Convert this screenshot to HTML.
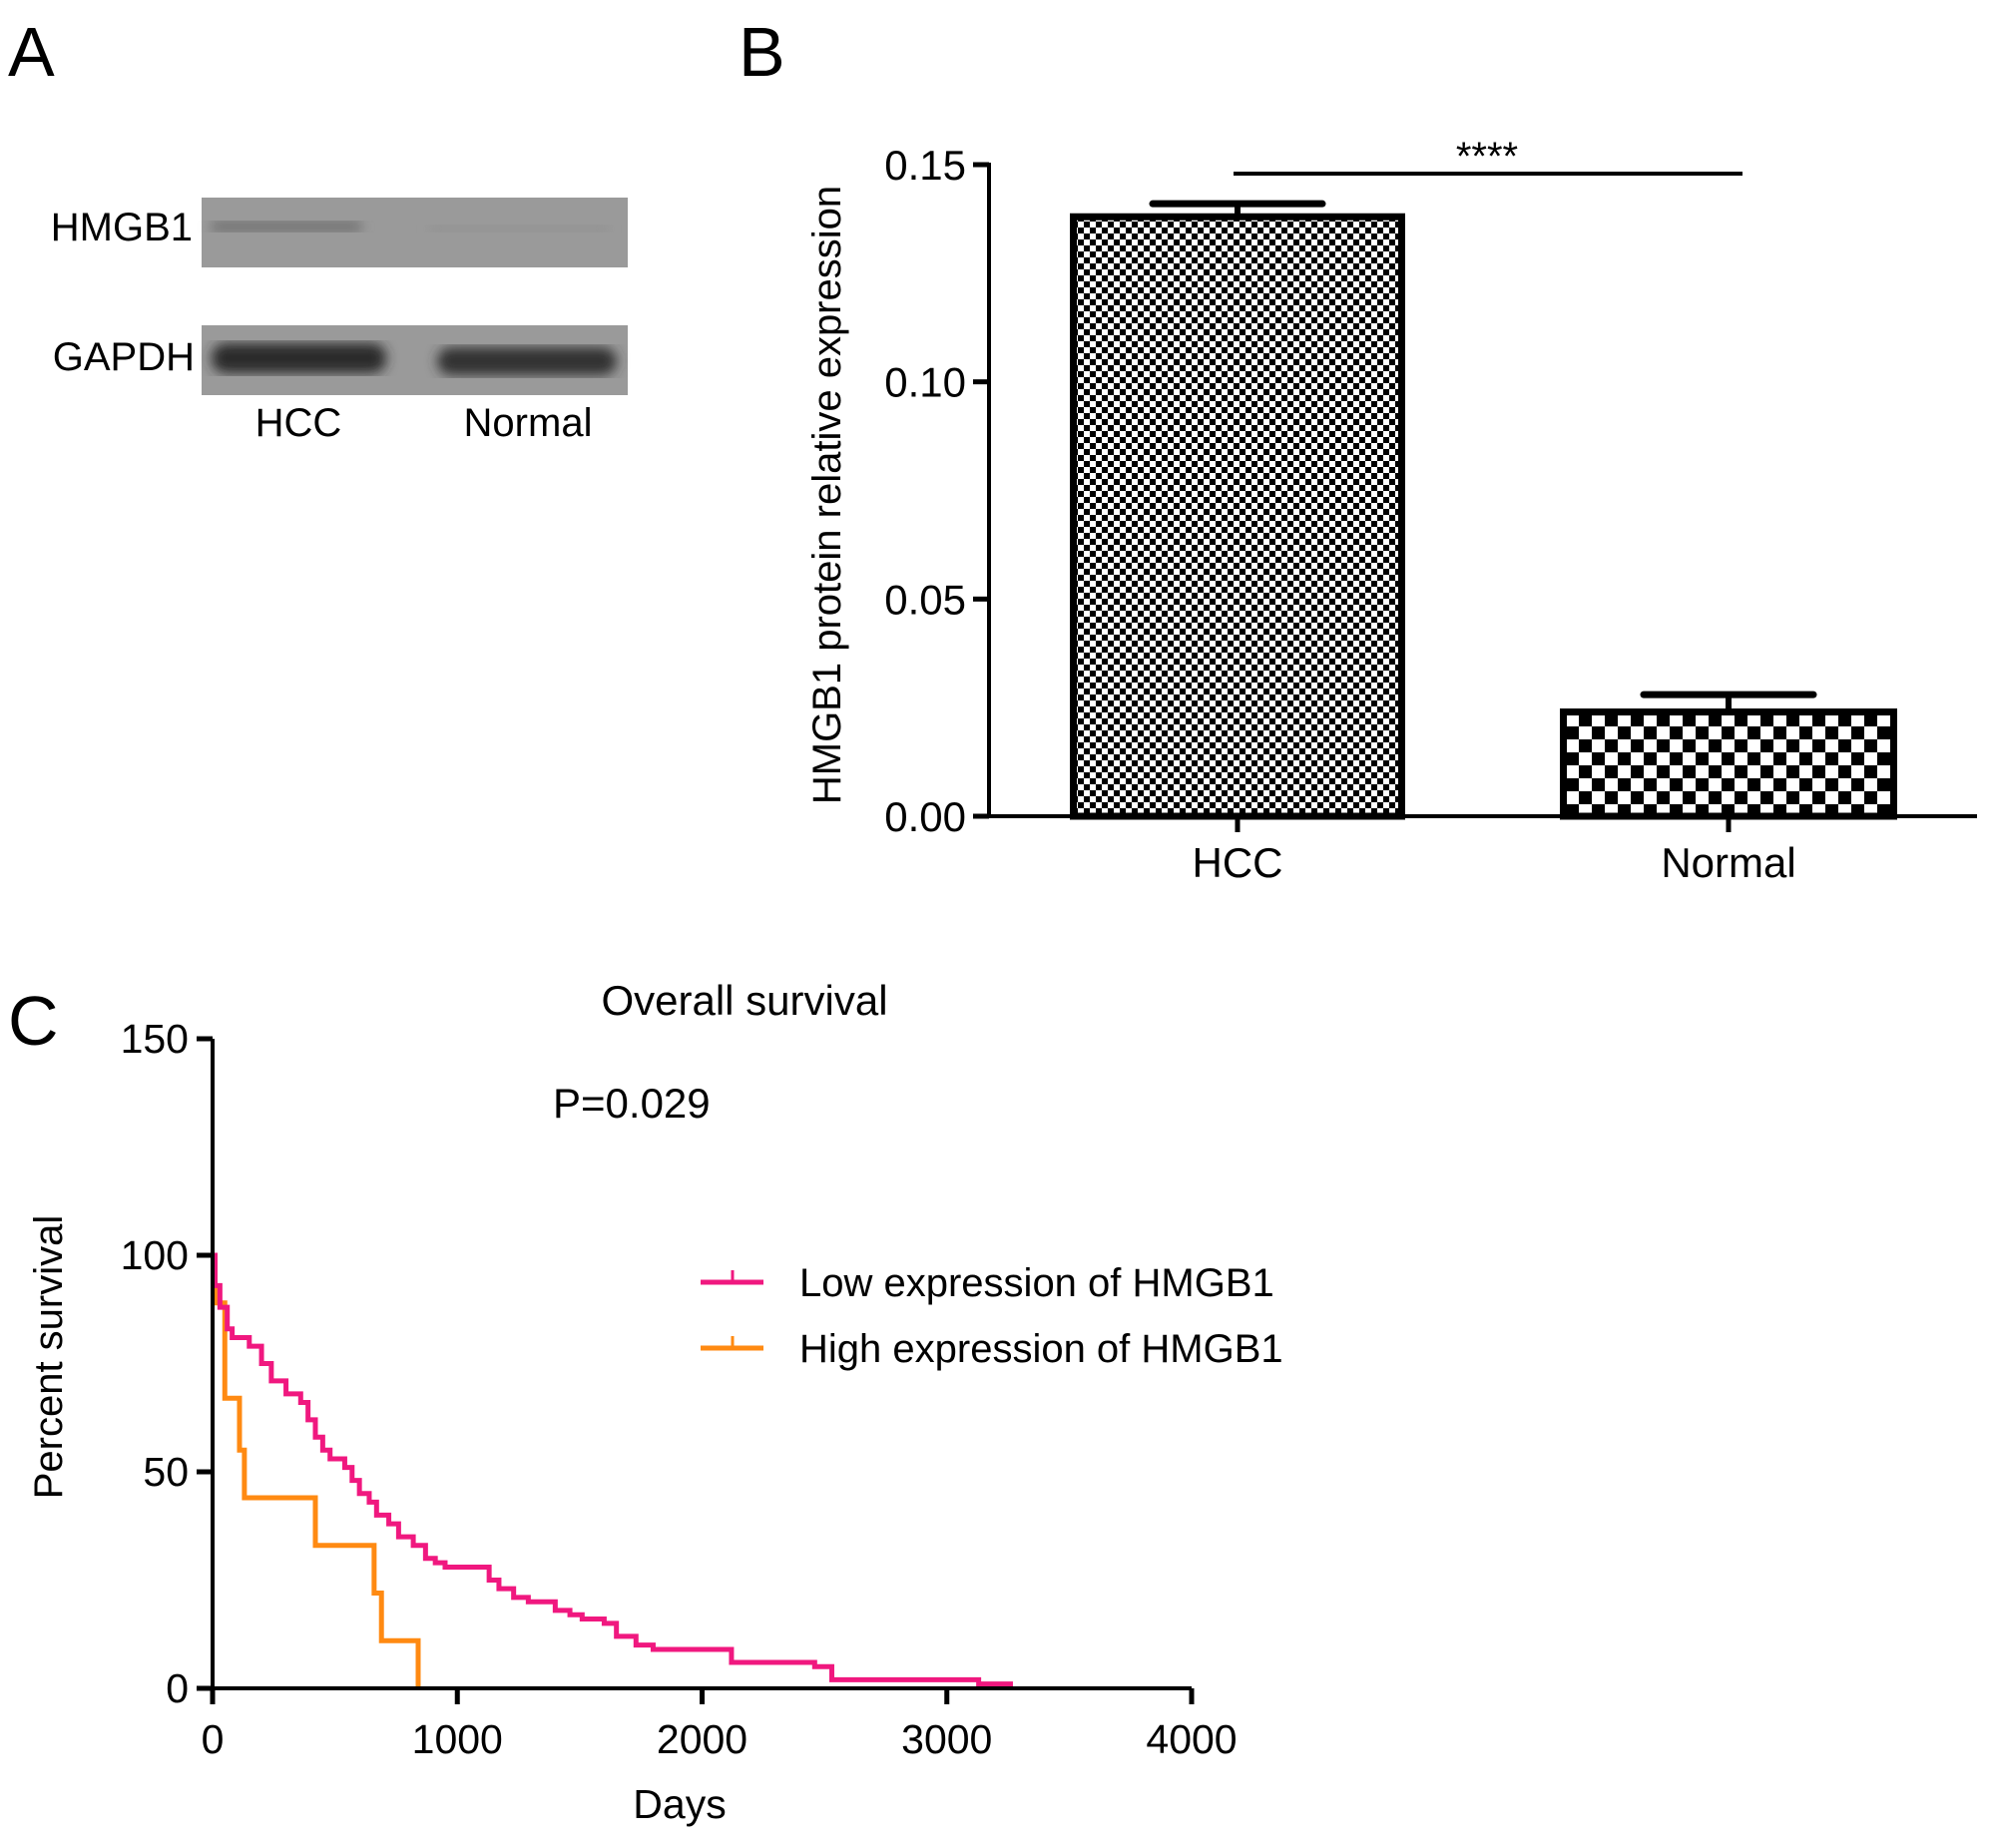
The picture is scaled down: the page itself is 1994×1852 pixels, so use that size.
<!DOCTYPE html>
<html><head><meta charset="utf-8"><style>
html,body{margin:0;padding:0;background:#fff}
svg{display:block;font-family:"Liberation Sans",Arial,sans-serif}
</style></head><body>
<svg id="fig" width="1994" height="1852" viewBox="0 0 1994 1852">
<defs>
<pattern id="fine" width="12" height="12" patternUnits="userSpaceOnUse">
<rect width="12" height="12" fill="#fff"/><rect width="6" height="6" fill="#000"/><rect x="6" y="6" width="6" height="6" fill="#000"/>
</pattern>
<pattern id="coarse" width="26" height="26" patternUnits="userSpaceOnUse" x="1569" y="0">
<rect width="26" height="26" fill="#fff"/><rect width="13" height="13" fill="#000"/><rect x="13" y="13" width="13" height="13" fill="#000"/>
</pattern>
<filter id="blur"><feGaussianBlur stdDeviation="6"/></filter>
</defs>
<!-- Panel A -->
<text x="8" y="76" font-size="70">A</text>
<g>
<rect x="202" y="198" width="427" height="70" fill="#9a9a9a"/>
<rect x="212" y="222" width="150" height="10" fill="#6a6a6a" filter="url(#blur)"/>
<rect x="430" y="226" width="180" height="6" fill="#8e8e8e" filter="url(#blur)"/>
<rect x="202" y="326" width="427" height="70" fill="#9a9a9a"/>
<rect x="212" y="344" width="175" height="30" rx="14" fill="#2a2a2a" filter="url(#blur)"/>
<rect x="438" y="348" width="180" height="28" rx="14" fill="#333" filter="url(#blur)"/>
</g>
<text x="193" y="241" font-size="40" text-anchor="end">HMGB1</text>
<text x="195" y="371" font-size="40" text-anchor="end">GAPDH</text>
<text x="299" y="437" font-size="40" text-anchor="middle">HCC</text>
<text x="529" y="437" font-size="40" text-anchor="middle">Normal</text>
<!-- Panel B -->
<text x="740" y="76" font-size="70">B</text>
<g id="barChart"></g>
<!-- Panel C -->
<text x="8" y="1047" font-size="70">C</text>
<text x="746" y="1017" font-size="42" text-anchor="middle">Overall survival</text>
<text x="554" y="1120" font-size="42">P=0.029</text>
<g id="kmChart"></g>
<g>
<g>
<line x1="702" y1="1285" x2="765" y2="1285" stroke="#f0187f" stroke-width="5"/>
<line x1="734" y1="1285" x2="734" y2="1273" stroke="#f0187f" stroke-width="3"/>
<text x="801" y="1299" font-size="40">Low expression of HMGB1</text></g>
<g>
<line x1="702" y1="1351" x2="765" y2="1351" stroke="#ff8a12" stroke-width="5"/>
<line x1="734" y1="1351" x2="734" y2="1339" stroke="#ff8a12" stroke-width="3"/>
<text x="801" y="1365" font-size="40">High expression of HMGB1</text></g>
</g>
</svg>
<script>
var NS="http://www.w3.org/2000/svg";
function mk(p,t,a){var e=document.createElementNS(NS,t);for(var k in a)e.setAttribute(k,a[k]);p.appendChild(e);return e;}
// ---- Bar chart data ----
var barCategories=["HCC","Normal"];
var barMeans=[0.138,0.024];
var barErrors=[0.003,0.004];
var barTicks=[0,0.05,0.10,0.15];
var barTickLabels=["0.00","0.05","0.10","0.15"];
// ---- KM data ----
var lowDays=[0,10,30,60,80,150,200,240,300,360,390,420,450,480,540,570,600,640,670,720,760,820,870,910,950,1130,1170,1230,1290,1400,1460,1510,1600,1650,1730,1800,2120,2460,2530,3130,3270];
var lowSurv=[100,93,88,83,81,79,75,71,68,66,62,58,55,53,51,48,45,43,40,38,35,33,30,29,28,25,23,21,20,18,17,16,15,12,10,9,6,5,2,1,1];
var highDays=[0,10,50,110,130,420,660,690,840];
var highSurv=[100,89,67,55,44,33,22,11,0];
var kmXTicks=[0,1000,2000,3000,4000];
var kmYTicks=[0,50,100,150];

// Bar chart
(function(){
var g=document.getElementById('barChart');
var x0=991,x1=1981,yb=818,yt=165;
function Y(v){return yb-(v/0.15)*(yb-yt);}
var centers=[1240,1732],bw=[329,331],fills=["url(#fine)","url(#coarse)"];
barCategories.forEach(function(c,i){
 var top=Y(barMeans[i]);
 var eb=mk(g,'line',{x1:centers[i],x2:centers[i],y1:top,y2:Y(barMeans[i]+barErrors[i]),stroke:'#000','stroke-width':6});
 
 
 var cap=mk(g,'line',{x1:centers[i]-85,x2:centers[i]+85,y1:Y(barMeans[i]+barErrors[i]),y2:Y(barMeans[i]+barErrors[i]),stroke:'#000','stroke-width':7,'stroke-linecap':'round'});
 
 
 var r=mk(g,'rect',{x:centers[i]-bw[i]/2,y:top,width:bw[i],height:yb-top,fill:fills[i],stroke:'#000','stroke-width':7});
 
 
 var tk=mk(g,'line',{x1:centers[i],x2:centers[i],y1:yb,y2:yb+16,stroke:'#000','stroke-width':5});
 
 
 var t=mk(g,'text',{x:centers[i],y:879,'font-size':42,'text-anchor':'middle'});t.textContent=c;
 
 
});
var ax=mk(g,'path',{d:'M'+x0+' '+(yt-2)+'V'+yb+'H'+x1,fill:'none',stroke:'#000','stroke-width':4});


barTicks.forEach(function(v,i){
 var l=mk(g,'line',{x1:x0-16,x2:x0,y1:Y(v),y2:Y(v),stroke:'#000','stroke-width':5});
 
 
 var t=mk(g,'text',{x:968,y:Y(v)+15,'font-size':42,'text-anchor':'end'});t.textContent=barTickLabels[i];
 
 
});
var yt2=mk(g,'text',{x:0,y:0,'font-size':40,'text-anchor':'middle',transform:'translate(842,496) rotate(-90)'});yt2.textContent='HMGB1 protein relative expression';


var sl=mk(g,'line',{x1:1236,x2:1746,y1:174,y2:174,stroke:'#000','stroke-width':4});


var st=mk(g,'text',{x:1490,y:170,'font-size':40,'text-anchor':'middle'});st.textContent='****';


})();

// KM chart
(function(){
var g=document.getElementById('kmChart');
var x0=213,x1=1194,y0=1692,y150=1041;
function X(d){return x0+d/4000*(x1-x0);}
function Y(p){return y0-p/150*(y0-y150);}
function stepPath(ds,ss){var d='M'+X(ds[0])+' '+Y(ss[0]);for(var i=1;i<ds.length;i++){d+='H'+X(ds[i])+'V'+Y(ss[i]);}return d;}
var hp=mk(g,'path',{d:stepPath(highDays,highSurv),fill:'none',stroke:'#ff8a12','stroke-width':5});


var lp=mk(g,'path',{d:stepPath(lowDays,lowSurv),fill:'none',stroke:'#f0187f','stroke-width':5});


var ax=mk(g,'path',{d:'M'+x0+' '+y150+'V'+y0+'H'+x1,fill:'none',stroke:'#000','stroke-width':4});


kmXTicks.forEach(function(v){
 var l=mk(g,'line',{x1:X(v),x2:X(v),y1:y0,y2:y0+16,stroke:'#000','stroke-width':5});
 
 
 var t=mk(g,'text',{x:X(v),y:1757,'font-size':41,'text-anchor':'middle'});t.textContent=v;
 
 
});
kmYTicks.forEach(function(v){
 var l=mk(g,'line',{x1:x0-16,x2:x0,y1:Y(v),y2:Y(v),stroke:'#000','stroke-width':5});
 
 
 var t=mk(g,'text',{x:189,y:Y(v)+14,'font-size':41,'text-anchor':'end'});t.textContent=v;
 
 
});
var xt=mk(g,'text',{x:681,y:1822,'font-size':41,'text-anchor':'middle'});xt.textContent='Days';


var yt=mk(g,'text',{x:0,y:0,'font-size':40,'text-anchor':'middle',transform:'translate(62,1360) rotate(-90)'});yt.textContent='Percent survival';


})();
</script>
</body></html>
